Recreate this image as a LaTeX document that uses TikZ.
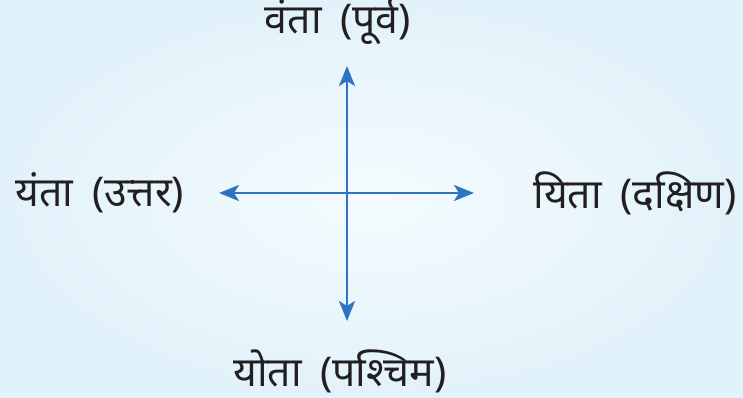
\documentclass[tikz,border=0pt]{standalone}
\usepackage{fontspec}
\newfontfamily\devfont[Script=Devanagari]{Noto Sans}
\usetikzlibrary{arrows.meta}
\definecolor{axisblue}{RGB}{46,116,192}
\definecolor{bgouter}{RGB}{226,242,250}
\definecolor{bginner}{RGB}{244,251,254}
\definecolor{textdark}{RGB}{35,31,32}
\tikzset{
  dirlabel/.style={font=\devfont\fontsize{41}{48}\selectfont, text=textdark, inner sep=0pt},
  axis/.style={axisblue, line width=2.4pt, -{Stealth[length=20pt, width=16pt, inset=5pt]}}
}
\begin{document}
\begin{tikzpicture}[x=1pt, y=-1pt]
  % background
  \useasboundingbox (0,0) rectangle (743,398);
  \fill[inner color=bginner, outer color=bgouter] (0,0) rectangle (743,398);

  % centre and arrow ends
  \coordinate (c) at (347,193);
  \coordinate (n) at (347,66);
  \coordinate (s) at (347,321);
  \coordinate (w) at (219,193);
  \coordinate (e) at (474,193);
  \draw[axis] (c) -- (n);
  \draw[axis] (c) -- (s);
  \draw[axis] (c) -- (w);
  \draw[axis] (c) -- (e);

  % direction names
  \node[dirlabel] (top) at (338,21) {वंता\hspace{8pt} (पूर्व)};
  \node[dirlabel] (left) at (100,193) {यंता\hspace{8pt} (उत्तर)};
  \node[dirlabel] (right) at (635,193) {यिता\hspace{8pt} (दक्षिण)};
  \node[dirlabel] (bottom) at (340,371) {योता\hspace{8pt} (पश्चिम)};
\end{tikzpicture}
\end{document}
